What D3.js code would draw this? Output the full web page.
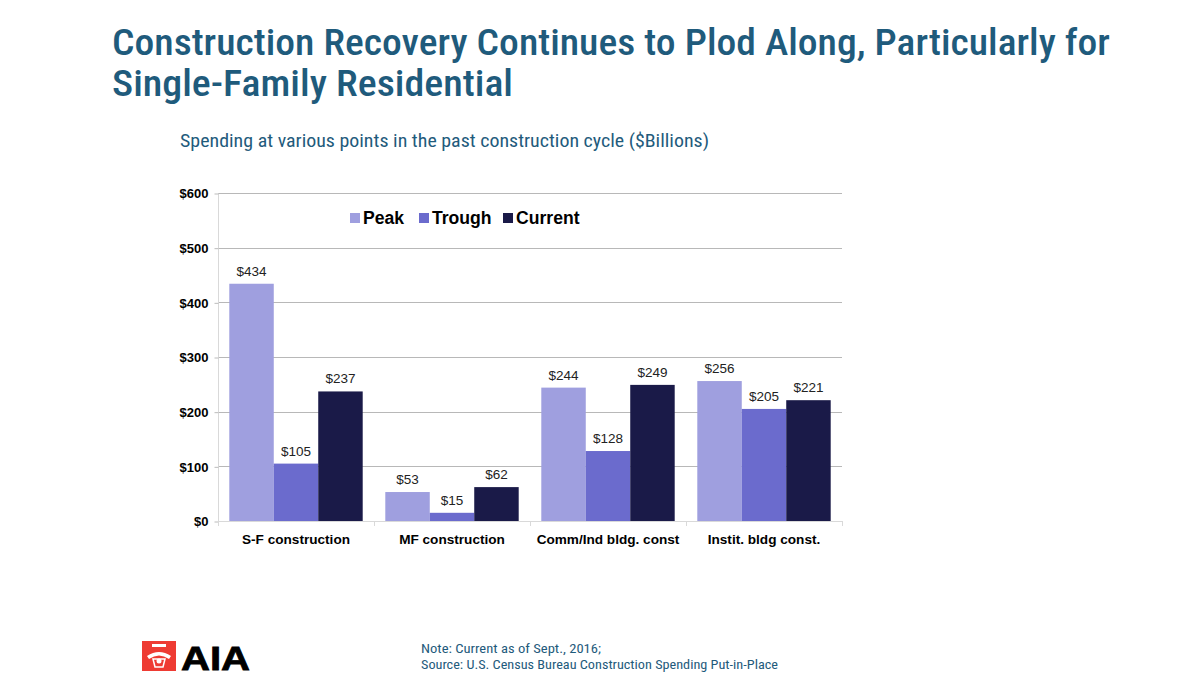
<!DOCTYPE html>
<html><head><meta charset="utf-8">
<script src="https://cdn.jsdelivr.net/npm/d3@7"></script>
<style>
html,body{margin:0;padding:0;background:#fff;}
svg{display:block;}
</style></head>
<body>
<svg id="chart" width="1192" height="691"></svg>
<script>
const categories = ["S-F construction", "MF construction", "Comm/Ind bldg. const", "Instit. bldg const."];
const seriesNames = ["Peak", "Trough", "Current"];
const peakValues = [434, 53, 244, 256];
const troughValues = [105, 15, 128, 205];
const currentValues = [237, 62, 249, 221];
const yTicks = [0, 100, 200, 300, 400, 500, 600];
const seriesColors = ["#9f9fdf", "#6b6bcd", "#1a1a48"];

(function () {
const svg = d3.select("#chart");
const titleColor = "#1f5b7c";
const condensed = "'Liberation Sans Narrow','Roboto Condensed','Arial Narrow',Roboto,sans-serif";

// Title
svg.append("text").attr("x", 112).attr("y", 55)
  .attr("font-family", condensed).attr("font-size", 36).attr("font-weight", 500).attr("fill", titleColor)
  .attr("textLength", 998).attr("lengthAdjust", "spacingAndGlyphs")
  .text("Construction Recovery Continues to Plod Along, Particularly for");
svg.append("text").attr("x", 112).attr("y", 96)
  .attr("font-family", condensed).attr("font-size", 36).attr("font-weight", 500).attr("fill", titleColor)
  .attr("textLength", 401).attr("lengthAdjust", "spacingAndGlyphs")
  .text("Single-Family Residential");
svg.append("text").attr("x", 180).attr("y", 147)
  .attr("font-family", condensed).attr("font-size", 18).attr("fill", titleColor)
  .attr("textLength", 529).attr("lengthAdjust", "spacingAndGlyphs")
  .text("Spending at various points in the past construction cycle ($Billions)");

// Plot
const pLeft = 218, pRight = 842, pTop = 193, pBottom = 521;
const y = d3.scaleLinear().domain([0, 600]).range([pBottom, pTop]);
const x0 = d3.scaleBand().domain(categories).range([pLeft, pRight]).padding(0);
const x1 = d3.scaleBand().domain(seriesNames).range([11.3, x0.bandwidth() - 11.3]).padding(0);

// grid
svg.append("g").selectAll("line").data(yTicks.filter(d => d > 0)).enter().append("line")
  .attr("x1", pLeft).attr("x2", pRight)
  .attr("y1", d => Math.round(y(d)) + 0.5).attr("y2", d => Math.round(y(d)) + 0.5)
  .attr("stroke", "#b8b8b8").attr("stroke-width", 1);

// y axis
const yAxis = d3.axisLeft(y).tickValues(yTicks).tickFormat(d => "$" + d).tickSize(4).tickPadding(6);
const ya = svg.append("g").attr("transform", `translate(${pLeft + 0.5},0.5)`).call(yAxis);
ya.select(".domain").attr("stroke", "#d9d9d9").attr("d", `M0,${pTop}V${pBottom}`);
ya.selectAll(".tick line").attr("stroke", "#bbbbbb");
ya.selectAll(".tick text").attr("font-family", "Liberation Sans, Arial, sans-serif")
  .attr("font-size", 13).attr("font-weight", "bold").attr("fill", "#000");

// bars
const data = categories.map((c, i) => ({cat: c, vals: [peakValues[i], troughValues[i], currentValues[i]]}));
const groups = svg.append("g").selectAll("g").data(data).enter().append("g")
  .attr("transform", d => `translate(${x0(d.cat)},0)`);
groups.selectAll("rect").data(d => d.vals.map((v, j) => ({s: seriesNames[j], v, j}))).enter().append("rect")
  .attr("x", d => x1(d.s)).attr("width", x1.bandwidth())
  .attr("y", d => y(d.v)).attr("height", d => y(0) - y(d.v))
  .attr("fill", d => seriesColors[d.j]);
groups.selectAll("text").data(d => d.vals.map((v, j) => ({s: seriesNames[j], v, j}))).enter().append("text")
  .attr("x", d => x1(d.s) + x1.bandwidth() / 2).attr("y", d => y(d.v) - 8)
  .attr("text-anchor", "middle").attr("font-family", "Liberation Sans, Arial, sans-serif")
  .attr("font-size", 13.5).attr("fill", "#222").text(d => "$" + d.v);

// x axis
const xAxis = d3.axisBottom(x0).tickSize(0).tickPadding(13);
const xa = svg.append("g").attr("transform", `translate(0,${pBottom + 0.5})`).call(xAxis);
xa.select(".domain").attr("stroke", "#d9d9d9").attr("d", `M${pLeft},0H${pRight}`);
xa.selectAll(".tick text").attr("font-family", "Liberation Sans, Arial, sans-serif")
  .attr("font-size", 13.6).attr("font-weight", "bold").attr("fill", "#000");
svg.append("g").selectAll("line").data(categories.concat(["end"])).enter().append("line")
  .attr("x1", (d, i) => Math.round(pLeft + i * x0.bandwidth()) + 0.5)
  .attr("x2", (d, i) => Math.round(pLeft + i * x0.bandwidth()) + 0.5)
  .attr("y1", pBottom).attr("y2", pBottom + 5).attr("stroke", "#d9d9d9");

// legend
const legendX = [350, 419, 503];
const lg = svg.append("g");
seriesNames.forEach((s, i) => {
  lg.append("rect").attr("x", legendX[i]).attr("y", 213).attr("width", 10).attr("height", 10).attr("fill", seriesColors[i]);
  lg.append("text").attr("x", legendX[i] + 13).attr("y", 224)
    .attr("font-family", "Liberation Sans, Arial, sans-serif").attr("font-size", 17.6).attr("font-weight", "bold")
    .attr("fill", "#000").text(s);
});

// footnote
svg.append("text").attr("x", 421).attr("y", 653).attr("font-family", condensed).attr("font-size", 12.5)
  .attr("fill", titleColor).attr("textLength", 180).attr("lengthAdjust", "spacingAndGlyphs")
  .text("Note: Current as of Sept., 2016;");
svg.append("text").attr("x", 421).attr("y", 669).attr("font-family", condensed).attr("font-size", 12.5)
  .attr("fill", titleColor).attr("textLength", 357).attr("lengthAdjust", "spacingAndGlyphs")
  .text("Source: U.S. Census Bureau Construction Spending Put-in-Place");

// AIA logo
const logo = svg.append("g");
logo.append("rect").attr("x", 142).attr("y", 641).attr("width", 34).attr("height", 30).attr("fill", "#ee3b33");
logo.append("rect").attr("x", 152).attr("y", 644).attr("width", 14).attr("height", 3).attr("fill", "#fff");
logo.append("path").attr("d", "M147,656 Q159,648 171,656 L169,659 Q159,652 149,659 Z").attr("fill", "#fff");
logo.append("path").attr("d", "M153,659 L165,659 L163,667 L155,667 Z").attr("fill", "none").attr("stroke", "#fff").attr("stroke-width", 1.5);
logo.append("circle").attr("cx", 159).attr("cy", 661).attr("r", 2.5).attr("fill", "#fff");
logo.append("text").attr("x", 181).attr("y", 670).attr("font-family", "Liberation Sans, Arial, sans-serif")
  .attr("font-size", 34).attr("font-weight", 900).attr("fill", "#000")
  .attr("stroke", "#000").attr("stroke-width", 0.8)
  .attr("textLength", 69).attr("lengthAdjust", "spacingAndGlyphs").text("AIA");
})();
</script>
</body></html>
